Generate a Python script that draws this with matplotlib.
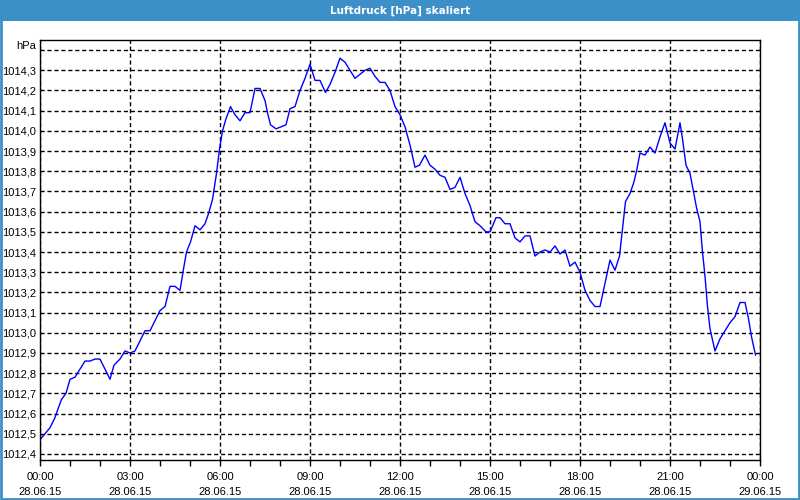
import matplotlib
matplotlib.use('Agg')
import matplotlib.pyplot as plt
from matplotlib.patches import Rectangle
from matplotlib.ticker import FixedLocator, MultipleLocator
from matplotlib.transforms import offset_copy

# minutes after 00:00 on 28.06.15
minutes = [0, 10, 20, 30, 37, 43, 52, 60, 70, 80, 90, 100, 110, 120, 130, 140,
           148, 160, 170, 180, 190, 200, 210, 220, 230, 240, 250, 260, 270, 280,
           288, 293, 301, 310, 320, 330, 337, 345, 353, 359, 365, 372, 381, 390,
           400, 410, 420, 430, 440, 450, 455, 461, 472, 482, 492, 500, 510, 520,
           530, 540, 550, 560, 571, 580, 590, 600, 610, 620, 630, 640, 650, 660,
           670, 680, 690, 700, 710, 720, 730, 740, 750, 759, 770, 780, 790, 800,
           810, 820, 830, 840, 850, 860, 870, 880, 892, 900, 912, 920, 930, 940,
           950, 960, 970, 980, 990, 1000, 1010, 1020, 1030, 1040, 1050, 1060,
           1070, 1080, 1090, 1100, 1110, 1120, 1127, 1133, 1140, 1150, 1159,
           1163, 1167, 1171, 1180, 1187, 1193, 1200, 1210, 1220, 1230, 1240,
           1250, 1260, 1270, 1280, 1285, 1292, 1300, 1307, 1313, 1320, 1325,
           1330, 1335, 1340, 1350, 1360, 1370, 1380, 1390, 1400, 1410, 1417,
           1423, 1431]
pressure = [1012.47, 1012.50, 1012.53, 1012.58, 1012.63, 1012.67, 1012.70,
            1012.77, 1012.78, 1012.82, 1012.86, 1012.86, 1012.87, 1012.87,
            1012.82, 1012.77, 1012.84, 1012.87, 1012.91, 1012.90, 1012.91,
            1012.96, 1013.01, 1013.01, 1013.06, 1013.11, 1013.13, 1013.23,
            1013.23, 1013.21, 1013.33, 1013.40, 1013.45, 1013.53, 1013.51,
            1013.54, 1013.59, 1013.66, 1013.79, 1013.91, 1014.00, 1014.06,
            1014.12, 1014.08, 1014.05, 1014.09, 1014.09, 1014.21, 1014.21,
            1014.15, 1014.09, 1014.03, 1014.01, 1014.02, 1014.03, 1014.11,
            1014.12, 1014.20, 1014.26, 1014.33, 1014.25, 1014.25, 1014.19,
            1014.23, 1014.29, 1014.36, 1014.34, 1014.30, 1014.26, 1014.28,
            1014.30, 1014.31, 1014.27, 1014.24, 1014.24, 1014.20, 1014.12,
            1014.08, 1014.02, 1013.93, 1013.82, 1013.83, 1013.88, 1013.83,
            1013.81, 1013.78, 1013.77, 1013.71, 1013.72, 1013.77, 1013.69,
            1013.63, 1013.55, 1013.53, 1013.50, 1013.50, 1013.57, 1013.57,
            1013.54, 1013.54, 1013.47, 1013.45, 1013.48, 1013.48, 1013.38,
            1013.40, 1013.41, 1013.40, 1013.43, 1013.39, 1013.41, 1013.33,
            1013.35, 1013.30, 1013.21, 1013.16, 1013.13, 1013.13, 1013.21,
            1013.28, 1013.36, 1013.31, 1013.38, 1013.47, 1013.56, 1013.65,
            1013.69, 1013.74, 1013.80, 1013.89, 1013.88, 1013.92, 1013.89,
            1013.97, 1014.04, 1013.94, 1013.91, 1014.04, 1013.96, 1013.83,
            1013.79, 1013.70, 1013.62, 1013.55, 1013.40, 1013.28, 1013.13,
            1013.02, 1012.91, 1012.97, 1013.01, 1013.05, 1013.08, 1013.15,
            1013.15, 1013.07, 1012.98, 1012.89]

tick_minutes = [0, 180, 360, 540, 720, 900, 1080, 1260, 1440]
tick_times = ['00:00', '03:00', '06:00', '09:00', '12:00', '15:00', '18:00', '21:00', '00:00']
tick_dates = ['28.06.15'] * 8 + ['29.06.15']
y_ticks = [1012.4, 1012.5, 1012.6, 1012.7, 1012.8, 1012.9, 1013.0, 1013.1, 1013.2,
           1013.3, 1013.4, 1013.5, 1013.6, 1013.7, 1013.8, 1013.9, 1014.0, 1014.1,
           1014.2, 1014.3, 1014.4]
title = 'Luftdruck [hPa] skaliert'
unit = 'hPa'

blue = '#3d8fc7'
plt.rcParams['font.family'] = ['Liberation Sans', 'DejaVu Sans']

fig = plt.figure(figsize=(8, 5), dpi=100, facecolor='white')

# title bar and window border
fig.patches.append(Rectangle((0, 0.958), 1, 0.042, transform=fig.transFigure,
                             facecolor=blue, edgecolor='none', zorder=0))
fig.patches.append(Rectangle((0.001, 0.002), 0.998, 0.99, transform=fig.transFigure,
                             facecolor='none', edgecolor=blue, linewidth=2, zorder=0))
fig.text(0.5, 0.979, title, ha='center', va='center', color='white',
         fontsize=7.5, fontweight='bold', family='DejaVu Sans')

ax = fig.add_axes([0.05, 0.08, 0.9, 0.84])
ax.plot(minutes, pressure, color='#0000ff', linewidth=1)

ax.set_xlim(0, 1440)
ax.set_ylim(1012.37, 1014.45)

ax.xaxis.set_major_locator(FixedLocator(tick_minutes))
ax.xaxis.set_minor_locator(MultipleLocator(60))
ax.set_xticklabels([f'{t}\n{d}' for t, d in zip(tick_times, tick_dates)])
ax.yaxis.set_major_locator(FixedLocator(y_ticks))
ylabels = [f'{v:.1f}'.replace('.', ',') for v in y_ticks]
ylabels[-1] = ''
ax.set_yticklabels(ylabels)

# unit label sits a little above the top gridline
unit_tr = offset_copy(ax.get_yaxis_transform(), fig=fig, x=-3, y=3, units='points')
ax.text(0, y_ticks[-1], unit, transform=unit_tr, ha='right', va='center', fontsize=8)

ax.tick_params(axis='x', which='both', direction='out', length=4, width=1,
               labelsize=8, pad=5)
ax.tick_params(axis='y', length=0, labelsize=8, pad=3)
for lbl in ax.get_xticklabels():
    lbl.set_linespacing(1.6)

ax.grid(True, which='major', color='black', linestyle=(0, (3, 2)), linewidth=1)
for s in ax.spines.values():
    s.set_color('black')
    s.set_linewidth(1)

fig.savefig('out.png', dpi=100, facecolor='white')
